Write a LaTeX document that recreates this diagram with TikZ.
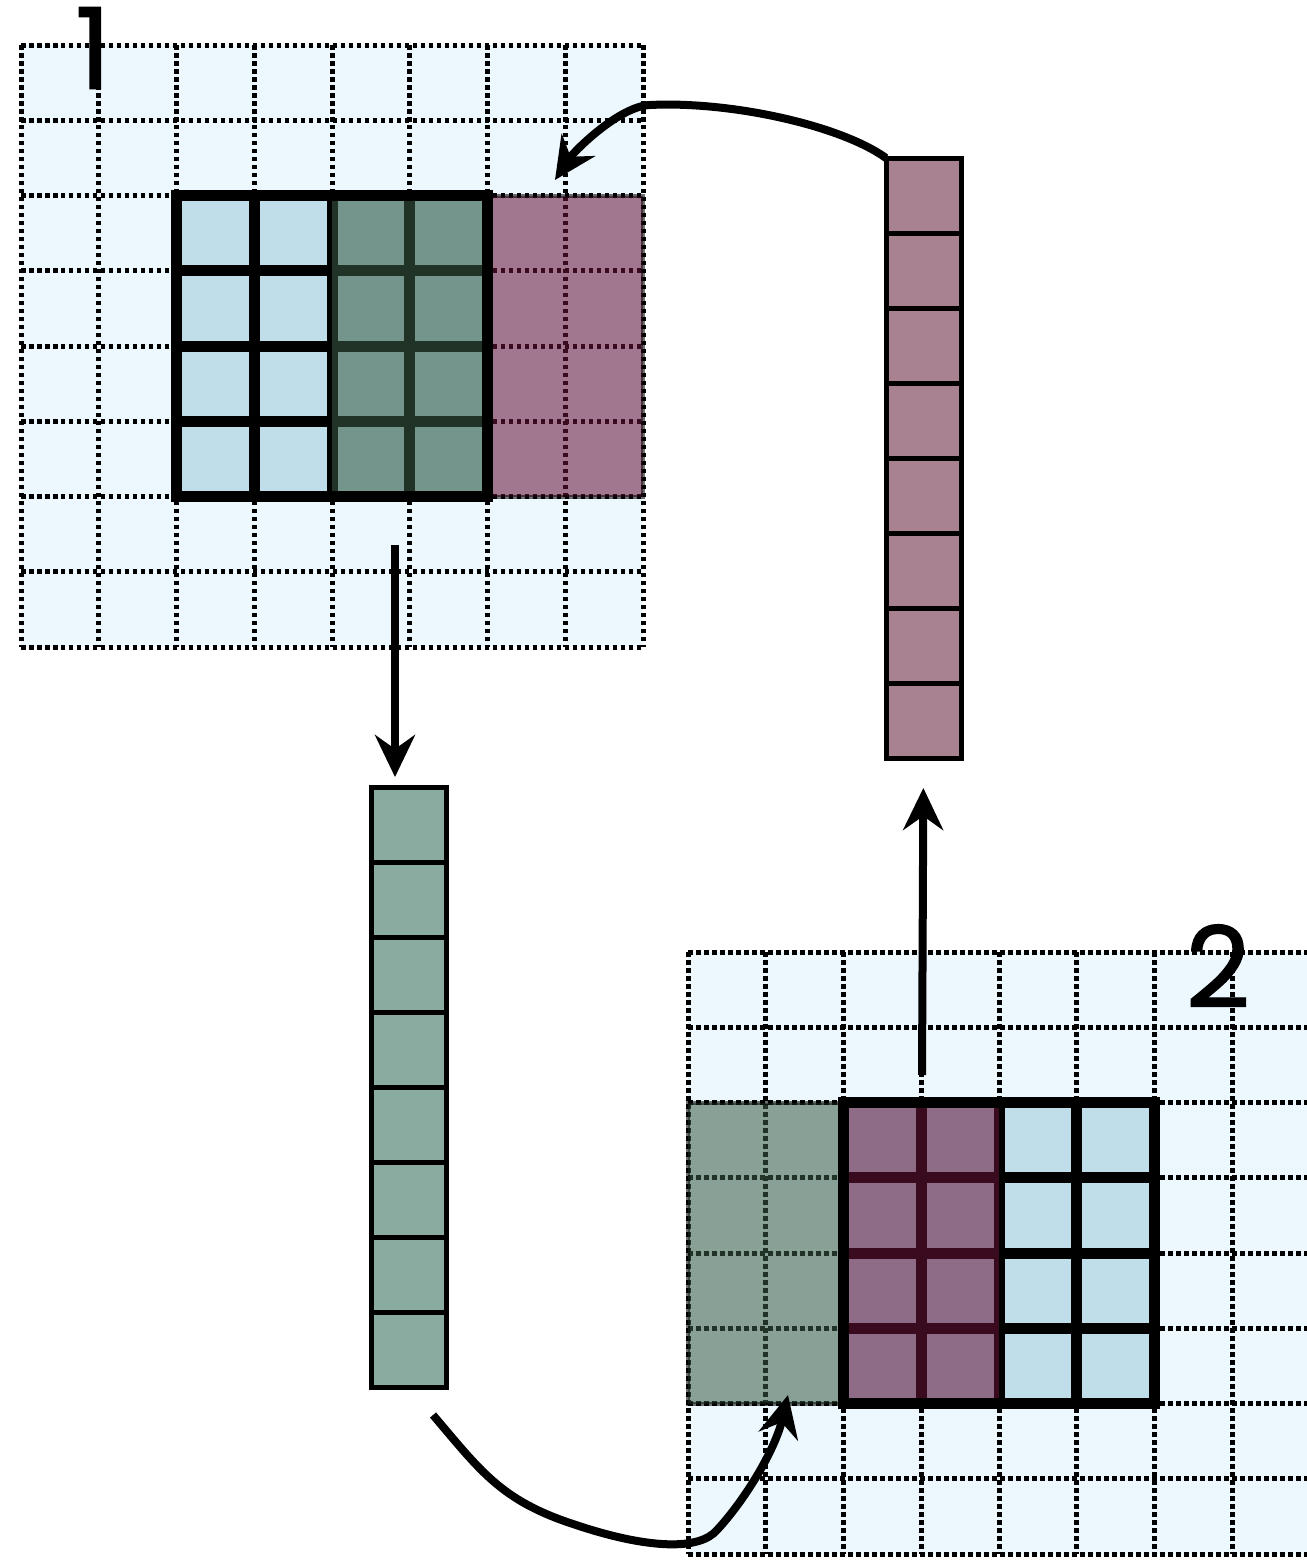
\documentclass[tikz,border=0pt]{standalone}
\usepackage{fontspec}
\setmainfont{Poppins}
\newfontfamily\lblfont{Poppins}[FakeBold=1.2]
\usetikzlibrary{arrows.meta}

\definecolor{gridbg}{RGB}{236,247,254}
\definecolor{winblue}{RGB}{191,222,234}
\definecolor{tintgreen}{RGB}{59,92,68}
\definecolor{tintpurple}{RGB}{104,18,57}
\definecolor{vecgreen}{RGB}{138,171,160}
\definecolor{vecpurple}{RGB}{168,130,144}

\begin{document}
\begin{tikzpicture}[x=0.1mm, y=-0.1mm,
        dotline/.style={line width=0.5mm, dash pattern=on 0.45mm off 0.35mm},
        winline/.style={line width=1.1mm},
        tint/.style={fill=#1, fill opacity=0.56},
        tintbox/.style={tint=#1, draw=black, draw opacity=0.56, line width=0.4mm},
        cell/.style={draw=black, line width=0.5mm, inner sep=0pt, outer sep=0pt,
            minimum width=7.5mm, minimum height=7.5mm},
        arr/.style={-{Stealth[length=4.2mm, width=4mm, inset=1.4mm]}, line width=0.8mm},
        lbl/.style={inner sep=0pt, font=\lblfont\fontsize{32}{32}\selectfont},
        ]

    \useasboundingbox (0,0) rectangle (1307,1560);

    % first grid
    \begin{scope}[shift={(21,45)}, x=7.775mm, y=-7.525mm]
        \fill[gridbg] (0,0) rectangle (8,8);
        \foreach \k in {0,...,8}
            \draw[dotline] (\k,0) -- (\k,8) (0,\k) -- (8,\k);
        \fill[winblue] (2,2) rectangle (6,6);
        \foreach \k in {3,4,5}
            \draw[winline] (\k,2) -- (\k,6) (2,\k) -- (6,\k);
        \fill[tint=tintgreen] (4,2) rectangle (6,6);
        \filldraw[tintbox=tintpurple] (6,2) rectangle (8,6);
        \draw[winline] (2,2) rectangle (6,6);
    \end{scope}

    % second grid
    \begin{scope}[shift={(688,952)}, x=7.775mm, y=-7.525mm]
        \fill[gridbg] (0,0) rectangle (8,8);
        \foreach \k in {0,...,8}
            \draw[dotline] (\k,0) -- (\k,8) (0,\k) -- (8,\k);
        \fill[winblue] (2,2) rectangle (6,6);
        \foreach \k in {3,4,5}
            \draw[winline] (\k,2) -- (\k,6) (2,\k) -- (6,\k);
        \filldraw[tintbox=tintgreen] (0,2) rectangle (2,6);
        \fill[tint=tintpurple] (2,2) rectangle (4,6);
        \draw[winline] (2,2) rectangle (6,6);
    \end{scope}

    \foreach \i in {1,...,8}{
        \node (g\i) [cell, fill=vecgreen] at (408.5,749.5+75*\i){};
        \node (p\i) [cell, fill=vecpurple] at (923.5,120.5+75*\i){};
    }

    \node (one) [lbl] at (93,48){1};
    \node (two) [lbl] at (1218,966){2};

    \coordinate (dstart) at (395,545);
    \coordinate (ustart) at (922,1075);
    \coordinate (ptip) at (555,180);
    \coordinate (bstart) at (433,1415);
    \coordinate (btip) at (788,1395);

    \draw[arr, shorten >=1mm] (dstart) -- (dstart |- g1.north);
    \draw[arr, shorten >=3mm] (ustart) -- (p8.south);
    \draw[arr] (p1.north west) .. controls (840,125) and (730,101) .. (650,105)
        .. controls (620,106) and (575,150) .. (ptip);
    \draw[arr] (bstart) .. controls (480,1470) and (500,1500) .. (573,1524)
        .. controls (650,1550) and (700,1550) .. (717,1530)
        .. controls (745,1500) and (775,1450) .. (btip);
\end{tikzpicture}
\end{document}
